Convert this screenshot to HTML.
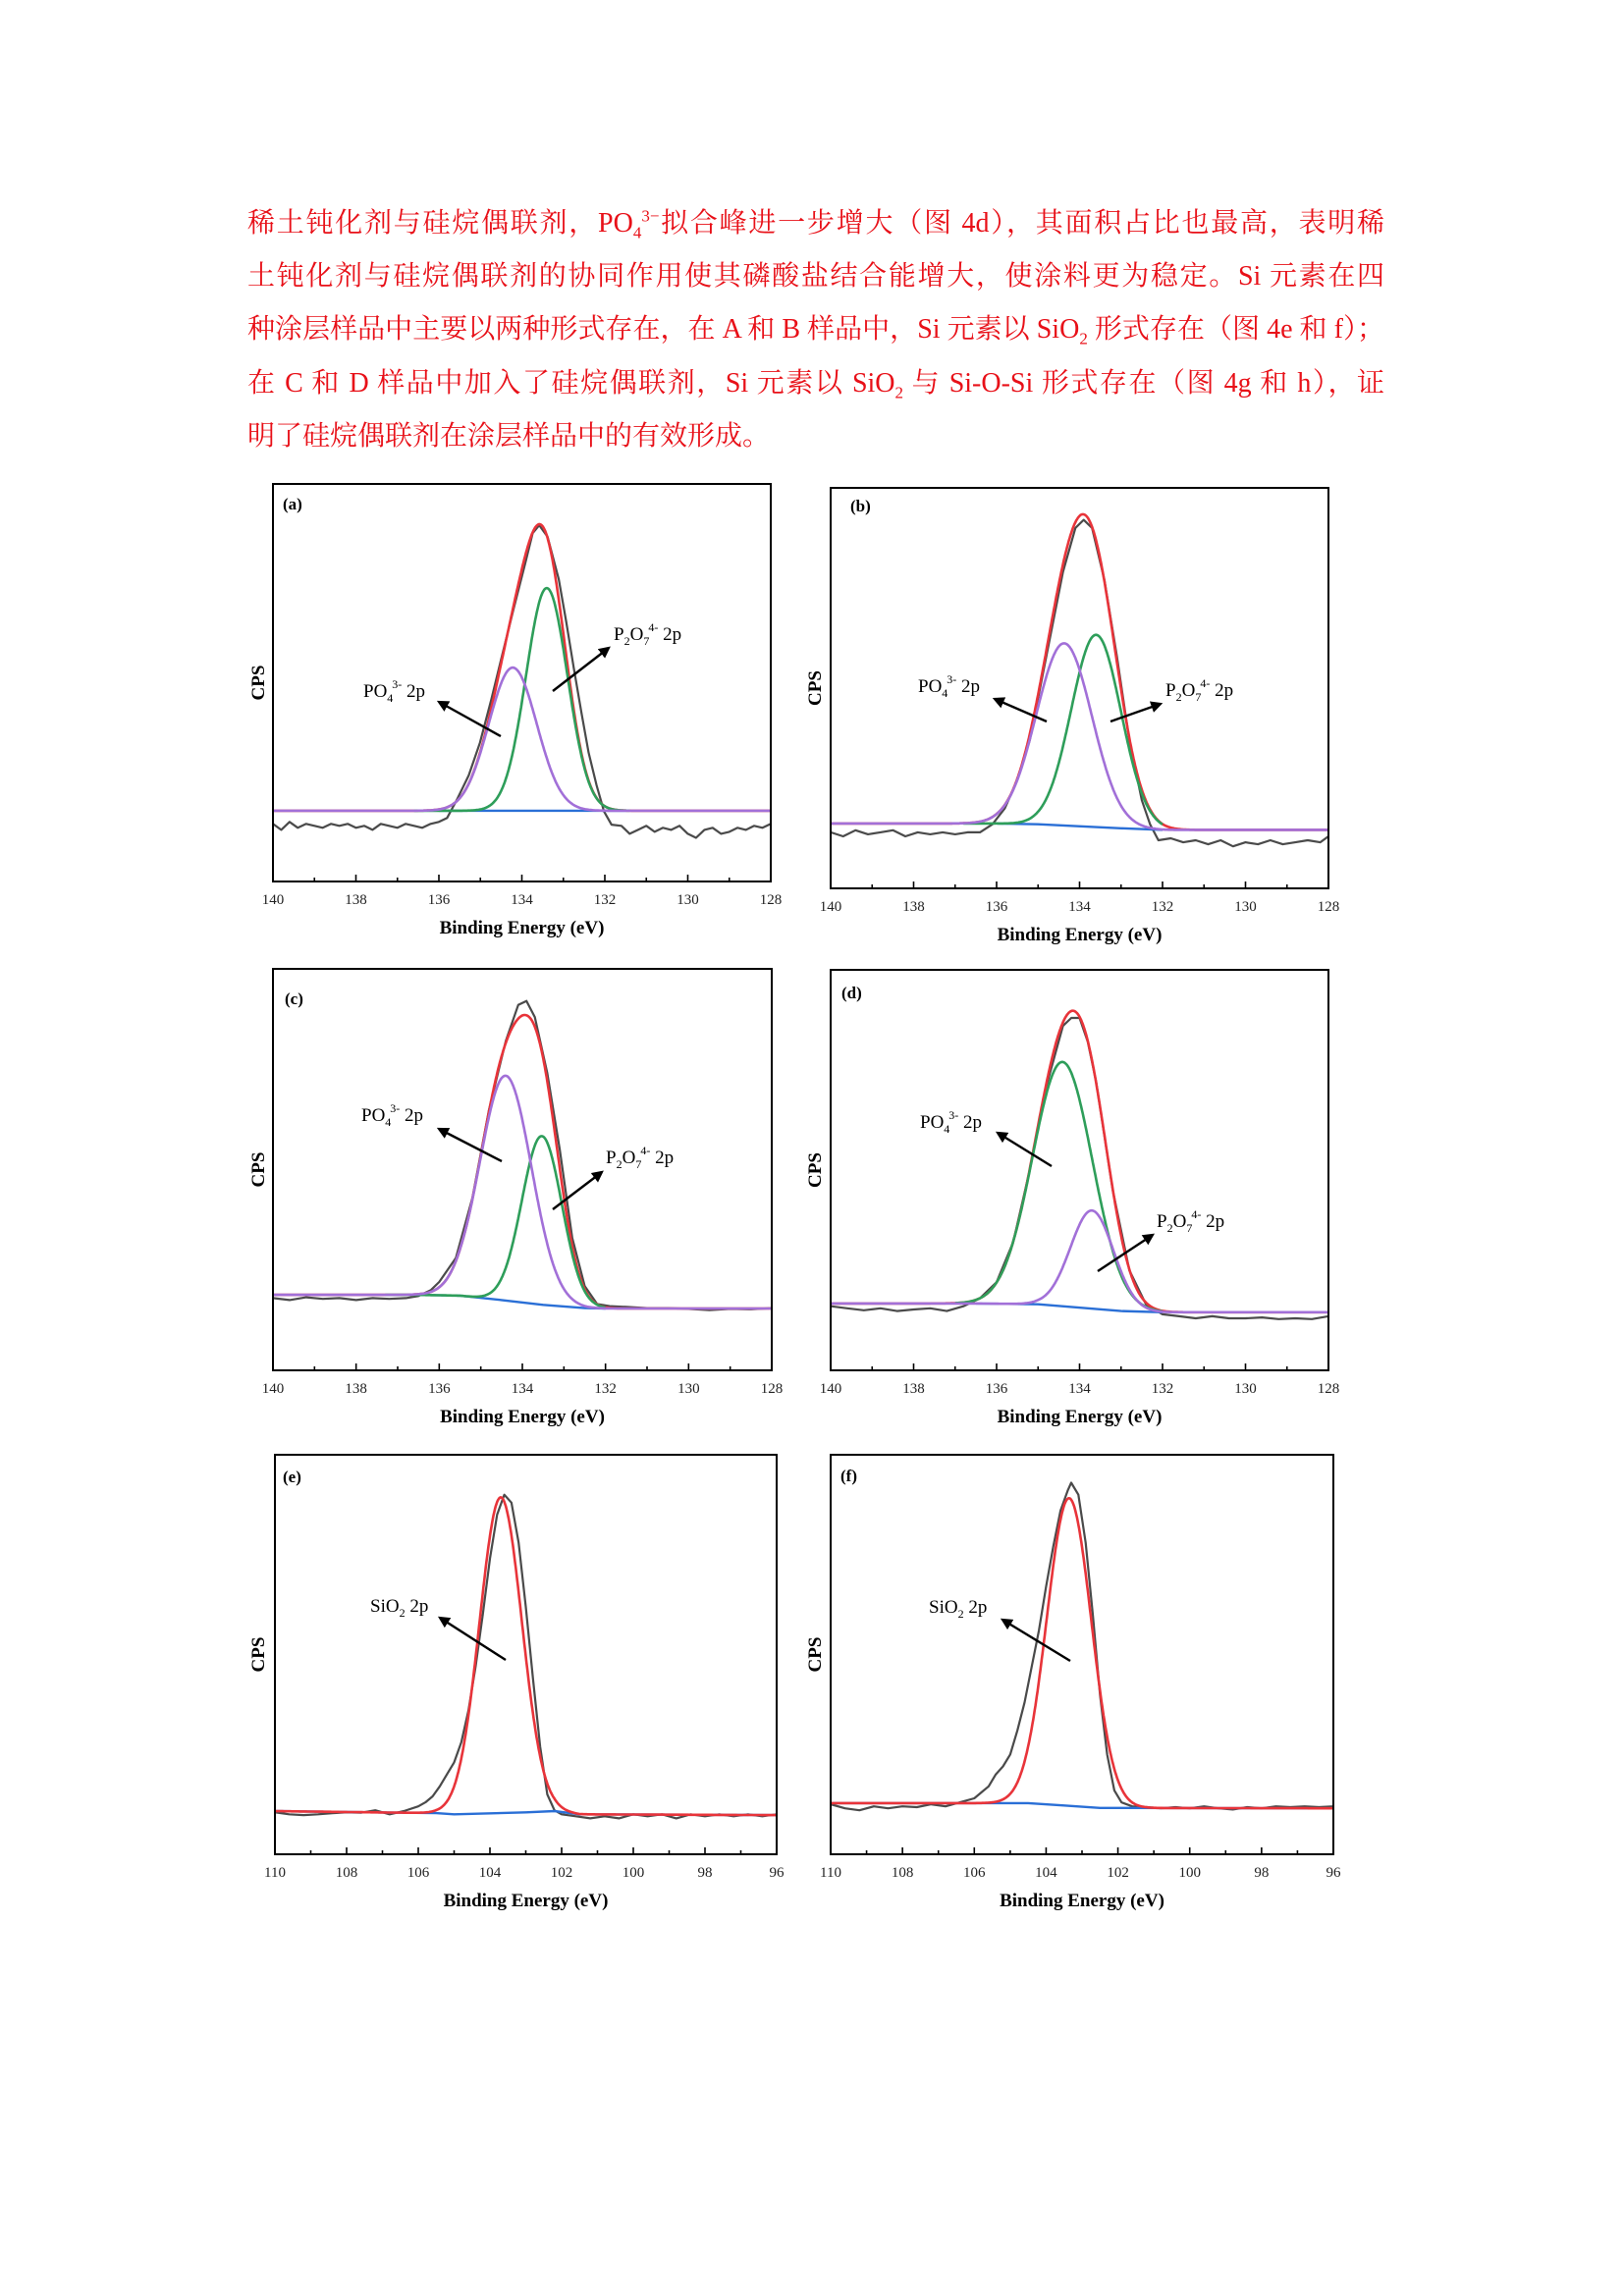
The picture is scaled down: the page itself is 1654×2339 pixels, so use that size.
<!DOCTYPE html>
<html><head><meta charset="utf-8">
<style>
html,body{margin:0;padding:0;background:#fff;}
body{width:1654px;height:2339px;position:relative;overflow:hidden;}
.para{position:absolute;left:252px;width:1158px;font-family:"Liberation Serif","Noto Serif CJK SC",serif;font-size:28px;color:#e81018;line-height:40px;text-align:justify;text-align-last:justify;white-space:nowrap;}
.para.last{text-align-last:left;}
sub,sup{font-size:17px;line-height:0;}
svg{position:absolute;left:0;top:0;}
</style></head>
<body>
<div class="para" style="top:208px">稀土钝化剂与硅烷偶联剂，PO<sub>4</sub><sup>3−</sup>拟合峰进一步增大（图 4d），其面积占比也最高，表明稀</div>
<div class="para" style="top:262px">土钝化剂与硅烷偶联剂的协同作用使其磷酸盐结合能增大，使涂料更为稳定。Si 元素在四</div>
<div class="para" style="top:316px">种涂层样品中主要以两种形式存在，在 A 和 B 样品中，Si 元素以 SiO<sub>2</sub> 形式存在（图 4e 和 f）；</div>
<div class="para" style="top:371px">在 C 和 D 样品中加入了硅烷偶联剂，Si 元素以 SiO<sub>2</sub> 与 Si-O-Si 形式存在（图 4g 和 h），证</div>
<div class="para last" style="top:425px">明了硅烷偶联剂在涂层样品中的有效形成。</div>

<svg id="fig" width="1654" height="2339" xmlns="http://www.w3.org/2000/svg">
<defs><marker id="ah" viewBox="0 0 10 10" refX="8" refY="5" markerWidth="5" markerHeight="5" orient="auto"><path d="M0,0 L10,5 L0,10 z" fill="#000"/></marker></defs>
</svg>

<script>
// ---- data (y in fraction of plot height, x in eV) ----
const rawA = [[140,.145],[139.8,.13],[139.6,.15],[139.4,.135],[139.2,.145],[139,.14],[138.8,.135],[138.6,.145],[138.4,.14],[138.2,.145],[138,.135],[137.8,.14],[137.6,.13],[137.4,.145],[137.2,.14],[137,.135],[136.8,.145],[136.6,.14],[136.4,.135],[136.2,.145],[136,.15],[135.8,.16],[135.55,.209],[135.28,.267],[135.01,.349],[134.74,.456],[134.47,.571],[134.2,.686],[133.92,.80],[133.74,.876],[133.58,.896],[133.38,.867],[133.11,.76],[132.93,.653],[132.75,.538],[132.56,.423],[132.39,.324],[132.2,.242],[132.02,.176],[131.84,.143],[131.6,.14],[131.4,.12],[131.2,.13],[131,.14],[130.8,.125],[130.6,.135],[130.4,.13],[130.2,.14],[130,.12],[129.8,.11],[129.6,.13],[129.4,.135],[129.2,.12],[129,.125],[128.8,.135],[128.6,.13],[128.4,.14],[128.2,.135],[128,.145]];
const baseA = [[136,.178],[131.5,.178]];
const peaksA = [[134.22,.36,.58],[133.4,.56,.5]];

const rawB = [[140,.14],[139.7,.13],[139.4,.145],[139.1,.135],[138.8,.14],[138.5,.145],[138.2,.13],[137.9,.14],[137.6,.135],[137.3,.14],[137,.135],[136.7,.14],[136.4,.14],[136.1,.16],[135.8,.2],[135.5,.27],[135.2,.37],[134.8,.58],[134.4,.79],[134.1,.9],[133.9,.92],[133.7,.9],[133.4,.77],[133.1,.58],[132.8,.37],[132.5,.22],[132.3,.16],[132.1,.12],[131.8,.125],[131.5,.115],[131.2,.12],[130.9,.11],[130.6,.12],[130.3,.105],[130,.115],[129.7,.11],[129.4,.12],[129.1,.11],[128.8,.115],[128.5,.12],[128.2,.115],[128,.13]];
const baseB = [[136,.162],[135,.16],[133,.15],[132,.146]];
const peaksB = [[134.37,.455,.67],[133.6,.48,.6]];

const rawC = [[140,.18],[139.6,.175],[139.2,.182],[138.8,.178],[138.4,.18],[138,.175],[137.6,.18],[137.2,.178],[136.8,.18],[136.5,.185],[136.2,.2],[136,.22],[135.6,.28],[135.2,.43],[134.8,.65],[134.4,.82],[134.1,.91],[133.9,.92],[133.7,.88],[133.4,.74],[133.1,.55],[132.8,.33],[132.5,.21],[132.2,.165],[131.9,.16],[131.5,.158],[131,.155],[130.5,.155],[130,.153],[129.5,.15],[129,.153],[128.5,.152],[128,.155]];
const baseC = [[136.5,.188],[135.5,.186],[134.5,.175],[133.5,.163],[132.5,.155],[132,.154]];
const peaksC = [[134.4,.56,.62],[133.53,.42,.48]];

const rawD = [[140,.16],[139.6,.155],[139.2,.15],[138.8,.155],[138.4,.148],[138,.152],[137.6,.155],[137.2,.148],[136.8,.16],[136.4,.18],[136,.22],[135.6,.32],[135.2,.5],[134.8,.71],[134.4,.86],[134.2,.88],[134,.88],[133.8,.82],[133.6,.72],[133.2,.45],[132.8,.25],[132.4,.165],[132,.14],[131.6,.135],[131.2,.13],[130.8,.135],[130.4,.13],[130,.13],[129.6,.132],[129.2,.128],[128.8,.13],[128.4,.128],[128,.135]];
const baseD = [[136.5,.167],[135,.165],[133,.148],[132,.145]];
const peaksD = [[133.7,.245,.52],[134.41,.61,.72]];

const rawE = [[110,.105],[109.6,.1],[109.2,.098],[108.8,.1],[108.4,.103],[108,.105],[107.6,.104],[107.2,.11],[106.8,.1],[106.4,.108],[106,.12],[105.8,.13],[105.6,.145],[105.4,.17],[105.2,.2],[105,.23],[104.8,.28],[104.6,.36],[104.4,.47],[104.2,.6],[104,.74],[103.8,.85],[103.6,.9],[103.4,.88],[103.2,.78],[103,.62],[102.8,.44],[102.6,.27],[102.4,.15],[102.2,.11],[102,.1],[101.6,.095],[101.2,.09],[100.8,.095],[100.4,.09],[100,.1],[99.6,.095],[99.2,.1],[98.8,.09],[98.4,.1],[98,.095],[97.6,.1],[97.2,.095],[96.8,.1],[96.4,.095],[96,.1]];
const baseE = [[110,.108],[105.5,.103],[105,.1],[103,.105],[102.2,.108],[101.5,.1],[96,.098]];
const peaksE = [[103.7,.79,.59]];

const rawF = [[110,.125],[109.6,.115],[109.2,.11],[108.8,.12],[108.4,.115],[108,.12],[107.6,.118],[107.2,.125],[106.8,.12],[106.4,.13],[106,.14],[105.8,.155],[105.6,.17],[105.4,.2],[105.2,.22],[105,.25],[104.8,.31],[104.6,.38],[104.4,.47],[104.2,.56],[104,.67],[103.8,.77],[103.6,.86],[103.4,.91],[103.3,.93],[103.1,.9],[102.9,.78],[102.7,.6],[102.5,.4],[102.3,.25],[102.1,.16],[101.9,.13],[101.6,.12],[101.2,.118],[100.8,.115],[100.4,.118],[100,.115],[99.6,.12],[99.2,.115],[98.8,.112],[98.4,.118],[98,.115],[97.6,.12],[97.2,.118],[96.8,.12],[96.4,.118],[96,.12]];
const baseF = [[110,.128],[104.5,.128],[103.5,.122],[102.5,.116],[96,.115]];
const peaksF = [[103.36,.77,.62]];

const ticksP = [140,138,136,134,132,130,128];
const ticksSi = [110,108,106,104,102,100,98,96];

const NS = 'http://www.w3.org/2000/svg';
const svg = document.getElementById('fig');
function mk(tag, attrs, parent){const e=document.createElementNS(NS,tag);for(const k in attrs)e.setAttribute(k,attrs[k]);(parent||svg).appendChild(e);return e;}

const panels = [
 {id:'a',x0:278,x1:785,y0:493,y1:898,emax:140,emin:128,ticks:ticksP,raw:rawA,base:baseA,peaks:peaksA,cols:['#a270d8','#2e9e5a'],ranges:[[140,128],[136.6,131.4]],cpsX:263,
  labels:[{k:'po4',x:370,y:710},{k:'p2o7',x:625,y:652}],arrows:[[510,750,447,715],[563,704,620,660]],letter:[288,519]},
 {id:'b',x0:846,x1:1353,y0:497,y1:905,emax:140,emin:128,ticks:ticksP,raw:rawB,base:baseB,peaks:peaksB,cols:['#a270d8','#2e9e5a'],ranges:[[140,128],[136.8,132]],cpsX:830,
  labels:[{k:'po4',x:935,y:705},{k:'p2o7',x:1187,y:709}],arrows:[[1066,735,1013,712],[1131,735,1182,717]],letter:[866,521]},
 {id:'c',x0:278,x1:786,y0:987,y1:1396,emax:140,emin:128,ticks:ticksP,raw:rawC,base:baseC,peaks:peaksC,cols:['#a270d8','#2e9e5a'],ranges:[[140,128],[137.3,132]],cpsX:263,
  labels:[{k:'po4',x:368,y:1142},{k:'p2o7',x:617,y:1185}],arrows:[[511,1183,447,1150],[563,1232,613,1194]],letter:[290,1023]},
 {id:'d',x0:846,x1:1353,y0:988,y1:1396,emax:140,emin:128,ticks:ticksP,raw:rawD,base:baseD,peaks:peaksD,cols:['#a270d8','#2e9e5a'],ranges:[[140,128],[137,132]],cpsX:830,
  labels:[{k:'po4',x:937,y:1149},{k:'p2o7',x:1178,y:1250}],arrows:[[1071,1188,1016,1154],[1118,1295,1174,1258]],letter:[857,1017]},
 {id:'e',x0:280,x1:791,y0:1482,y1:1889,emax:110,emin:96,ticks:ticksSi,raw:rawE,base:baseE,peaks:peaksE,cols:['#e8343a'],ranges:[[110,96]],cpsX:263,
  labels:[{k:'sio2',x:377,y:1642}],arrows:[[515,1691,448,1648]],letter:[288,1510]},
 {id:'f',x0:846,x1:1358,y0:1482,y1:1889,emax:110,emin:96,ticks:ticksSi,raw:rawF,base:baseF,peaks:peaksF,cols:['#e8343a'],ranges:[[110,96]],cpsX:830,
  labels:[{k:'sio2',x:946,y:1643}],arrows:[[1090,1692,1021,1650]],letter:[856,1509]}
];

function baseAt(base,x){
  if(x>=base[0][0]) return base[0][1];
  if(x<=base[base.length-1][0]) return base[base.length-1][1];
  for(let i=0;i<base.length-1;i++){const a=base[i],b=base[i+1];if(x<=a[0]&&x>=b[0]){const t=(a[0]-x)/(a[0]-b[0]);return a[1]+t*(b[1]-a[1]);}}
  return base[0][1];
}
function gauss(p,x){return p[1]*Math.exp(-(x-p[0])*(x-p[0])/(2*p[2]*p[2]));}

panels.forEach(p=>{
  const g = mk('g',{});
  
  
  const X = v => p.x0 + (p.emax - v)/(p.emax-p.emin)*(p.x1-p.x0);
  const Y = v => p.y1 - v*(p.y1-p.y0);
  const clip = mk('clipPath',{id:'clip'+p.id},g);
  mk('rect',{x:p.x0,y:p.y0,width:p.x1-p.x0,height:p.y1-p.y0},clip);
  const plot = mk('g',{'clip-path':'url(#clip'+p.id+')'},g);
  const step=0.02;
  const pathFrom = (fn,hi,lo)=>{let d='';for(let x=hi;x>=lo-1e-9;x-=step){d+=(d?'L':'M')+X(x).toFixed(1)+','+Y(fn(x)).toFixed(1);}return d;};
  // raw
  const raw = mk('path',{d:p.raw.map((q,i)=>(i?'L':'M')+X(q[0]).toFixed(1)+','+Y(q[1]).toFixed(1)).join(''),fill:'none',stroke:'#4a4a4a','stroke-width':2.2,'stroke-linejoin':'round'},plot);
  
  
  // red envelope
  if(p.peaks.length>1){
    const env = mk('path',{d:pathFrom(x=>baseAt(p.base,x)+p.peaks.reduce((s,q)=>s+gauss(q,x),0),p.emax,p.emin),fill:'none',stroke:'#e8343a','stroke-width':2.6},plot);
    
    
  }
  // blue baseline
  const bl = mk('path',{d:p.base.map((q,i)=>(i?'L':'M')+X(q[0]).toFixed(1)+','+Y(q[1]).toFixed(1)).join(''),fill:'none',stroke:'#2a6fd6','stroke-width':2.4},plot);
  
  
  // components drawn in reverse order so first (spanning) is on top
  for(let i=p.peaks.length-1;i>=0;i--){
    const q=p.peaks[i], r=p.ranges[i];
    const c = mk('path',{d:pathFrom(x=>baseAt(p.base,x)+gauss(q,x),r[0],r[1]),fill:'none',stroke:p.cols[i],'stroke-width':2.6},plot);
    
    
  }
  // frame
  const fr = mk('rect',{x:p.x0,y:p.y0,width:p.x1-p.x0,height:p.y1-p.y0,fill:'none',stroke:'#000','stroke-width':2},g);
  
  
  // ticks
  for(let v=p.emax; v>=p.emin; v-=1){
    const major = p.ticks.includes(v);
    mk('line',{x1:X(v),x2:X(v),y1:p.y1,y2:p.y1-(major?7:4),stroke:'#000','stroke-width':1.6},g);
  }
  p.ticks.forEach(v=>{
    const t = mk('text',{x:X(v),y:p.y1+23,'text-anchor':'middle','font-family':'Liberation Serif, serif','font-size':15,fill:'#222'},g);
    t.textContent=v;
    
    
  });
  const ttl = mk('text',{x:(p.x0+p.x1)/2,y:p.y1+53,'text-anchor':'middle','font-family':'Liberation Serif, serif','font-size':19,'font-weight':'bold'},g);
  ttl.textContent='Binding Energy (eV)';
  
  
  const cy=(p.y0+p.y1)/2;
  const cps = mk('text',{x:p.cpsX,y:cy,'text-anchor':'middle','font-family':'Liberation Serif, serif','font-size':19,'font-weight':'bold',transform:'rotate(-90 '+p.cpsX+' '+cy+') translate(0 6)'},g);
  cps.textContent='CPS';
  
  
  const lt = mk('text',{x:p.letter[0],y:p.letter[1],'font-family':'Liberation Serif, serif','font-size':17,'font-weight':'bold'},g);
  lt.textContent='('+p.id+')';
  
  
  p.labels.forEach(L=>{
    const t = mk('text',{x:L.x,y:L.y,'font-family':'Liberation Serif, serif','font-size':19},g);
    
    
    const sp=(txt,dy,fs)=>{const s=mk('tspan',{dy:dy},t);if(fs)s.setAttribute('font-size',fs);s.textContent=txt;};
    if(L.k==='po4'){sp('PO',0);sp('4',5,12);const s=mk('tspan',{dx:-1,dy:-14,'font-size':12},t);s.textContent='3-';sp(' 2p',9);}
    else if(L.k==='p2o7'){sp('P',0);sp('2',5,12);sp('O',-5);sp('7',5,12);const s=mk('tspan',{dx:-1,dy:-14,'font-size':12},t);s.textContent='4-';sp(' 2p',9);}
    else {sp('SiO',0);sp('2',5,12);sp(' 2p',-5);}
  });
  p.arrows.forEach(a=>{
    const l = mk('line',{x1:a[0],y1:a[1],x2:a[2],y2:a[3],stroke:'#000','stroke-width':2.4,'marker-end':'url(#ah)'},g);
    
    
  });
});
</script>
</body></html>
